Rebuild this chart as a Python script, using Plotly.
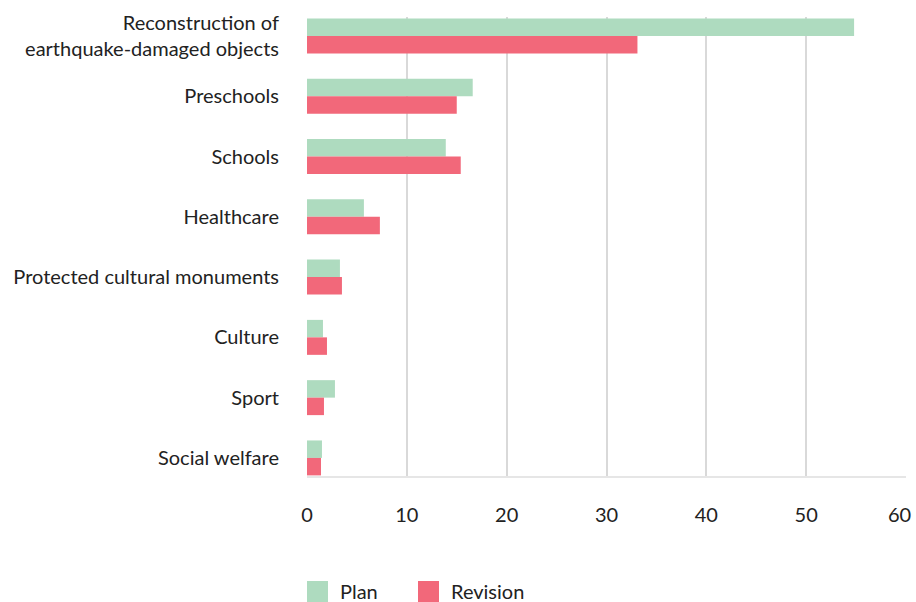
import plotly.graph_objects as go

categories = [
    "Reconstruction of<br>earthquake-damaged objects",
    "Preschools",
    "Schools",
    "Healthcare",
    "Protected cultural monuments",
    "Culture",
    "Sport",
    "Social welfare",
]
plan = [54.8, 16.6, 13.9, 5.7, 3.3, 1.6, 2.8, 1.5]
revision = [33.1, 15.0, 15.4, 7.3, 3.5, 2.0, 1.7, 1.4]
x_ticks = [0, 10, 20, 30, 40, 50, 60]
x_tick_labels = ["0", "10", "20", "30", "40", "50", "60"]

PLAN_COLOR = "#aedbbf"
REV_COLOR = "#f2687a"
FONT = "Lato"
TEXT = "#222222"

fig = go.Figure()
fig.add_trace(go.Bar(y=categories, x=plan, name="Plan", orientation="h",
                     marker=dict(color=PLAN_COLOR, line=dict(width=0))))
fig.add_trace(go.Bar(y=categories, x=revision, name="Revision", orientation="h",
                     marker=dict(color=REV_COLOR, line=dict(width=0))))

# last tick label is pulled inside the chart edge (as in the original)
tick_text = x_tick_labels[:-1] + [""]

fig.update_layout(
    width=916, height=602,
    margin=dict(l=307, r=10, t=17, b=126, autoexpand=False),
    barmode="group", bargap=0.42, bargroupgap=0,
    plot_bgcolor="white", paper_bgcolor="white",
    showlegend=False,
    font=dict(family=FONT, size=20, color=TEXT),
    xaxis=dict(range=[0, 60], tickvals=x_ticks, ticktext=tick_text, showgrid=True,
               gridcolor="#d9d9d9", gridwidth=1.5, zeroline=False, showline=True,
               linecolor="#e6e6e6", linewidth=2,
               ticks="outside", ticklen=20, tickcolor="rgba(0,0,0,0)",
               automargin=False, tickfont=dict(family=FONT, size=20, color=TEXT)),
    yaxis=dict(type="category", categoryorder="array", categoryarray=categories,
               range=[7.3, -0.315], showgrid=False, zeroline=False, showline=False,
               ticks="outside", ticklen=23, tickcolor="rgba(0,0,0,0)", automargin=False,
               tickfont=dict(family=FONT, size=20, color=TEXT)),
)

fig.add_annotation(xref="x", yref="paper", x=x_ticks[-1], y=-(514 - 476) / 459,
                   text=x_tick_labels[-1], showarrow=False, xanchor="right",
                   yanchor="middle", xshift=7,
                   font=dict(family=FONT, size=20, color=TEXT))

# legend drawn at bottom
legend_items = [("Plan", PLAN_COLOR, 307), ("Revision", REV_COLOR, 418)]
for name, color, px in legend_items:
    fig.add_shape(type="rect", xref="paper", yref="paper",
                  x0=(px - 307) / 599, x1=(px - 307 + 21) / 599,
                  y0=-(581 - 476 + 21) / 459, y1=-(581 - 476) / 459,
                  fillcolor=color, line=dict(width=0))
    fig.add_annotation(xref="paper", yref="paper", x=(px - 307 + 31) / 599,
                       y=-(591 - 476) / 459, text=name, showarrow=False,
                       xanchor="left", yanchor="middle",
                       font=dict(family=FONT, size=20, color=TEXT))

fig.write_html("out.html", config={"displayModeBar": False},
               post_script="document.body.style.margin='0';document.body.style.overflow='hidden';")
